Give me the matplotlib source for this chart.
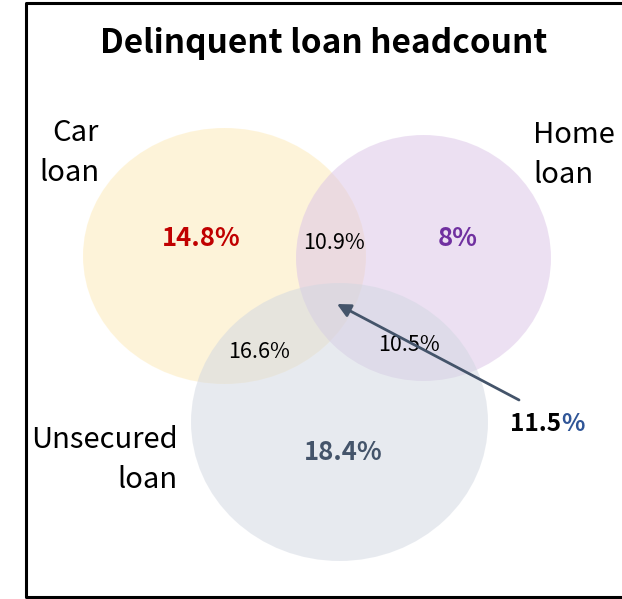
import matplotlib.pyplot as plt
from matplotlib.patches import Ellipse

plt.rcParams['font.family'] = ['Noto Sans CJK KR', 'DejaVu Sans']

# circles (pixel space of the original picture)
set_names = ['Car\nloan', 'Home\nloan', 'Unsecured\nloan']
set_colors = ['#FDE9B5', '#DBC3E7', '#D1D7E1']
circle_x = [224.5, 423.5, 339.5]
circle_y = [256, 258, 422]
circle_w = [283, 255, 297]
circle_h = [256, 246, 278]

# labels of the sets
name_x = [99, 533, 178]
name_y = [153, 155, 460]
name_ha = ['right', 'left', 'right']

# region values
region_vals = ['14.8%', '8%', '18.4%', '10.9%', '16.6%', '10.5%']
region_x = [201, 458, 343, 334, 259, 409]
region_y = [239, 238, 452, 243, 352, 345]
region_bold = [True, True, True, False, False, False]
region_colors = ['#C00000', '#7030A0', '#44546A', 'black', 'black', 'black']

center_val = '11.5'
center_xy = (337, 304)
center_label_xy = (561, 424)

fig = plt.figure(figsize=(6.22, 5.99), dpi=100)
ax = fig.add_axes([0, 0, 1, 1])
ax.set_xlim(0, 622)
ax.set_ylim(599, 0)
ax.axis('off')

# frame (right side runs off the picture)
ax.plot([640, 26, 26, 640], [3, 3, 597, 597], color='black', lw=2.2, clip_on=True)

for i in range(3):
    e = Ellipse((circle_x[i], circle_y[i]), circle_w[i], circle_h[i],
                facecolor=set_colors[i], edgecolor='none', alpha=0.5)
    ax.add_patch(e)
    ax.text(name_x[i], name_y[i], set_names[i], ha=name_ha[i], va='center',
            fontsize=21, linespacing=1.4, multialignment=name_ha[i])

for i in range(len(region_vals)):
    ax.text(region_x[i], region_y[i], region_vals[i], ha='center', va='center',
            fontsize=18.5 if region_bold[i] else 15.5,
            fontweight='bold' if region_bold[i] else 'normal',
            color=region_colors[i])

ax.annotate('', xy=center_xy, xytext=(519, 400),
            arrowprops=dict(arrowstyle='-|>', color='#44546A', lw=2, mutation_scale=20,
                            shrinkA=0, shrinkB=0))
ax.text(center_label_xy[0], center_label_xy[1], center_val, ha='right', va='center',
        fontsize=17.5, fontweight='bold', color='black')
ax.text(center_label_xy[0], center_label_xy[1], '%', ha='left', va='center',
        fontsize=17.5, fontweight='bold', color='#2F5597')

ax.text(324, 44, 'Delinquent loan headcount', ha='center', va='center',
        fontsize=24, fontweight='bold')

plt.savefig('out.png', dpi=100)
